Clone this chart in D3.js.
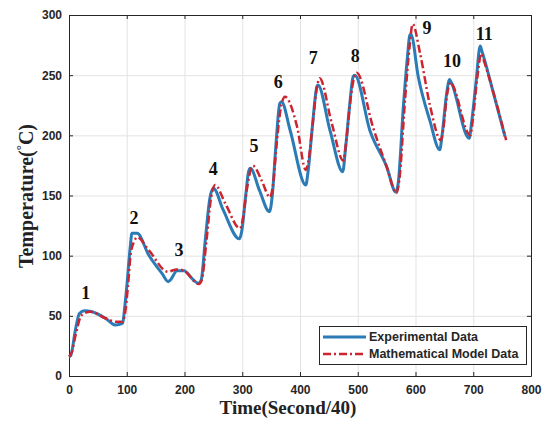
<!DOCTYPE html>
<html>
<head>
<meta charset="utf-8">
<script src="https://cdn.jsdelivr.net/npm/d3@7"></script>
<style>
  html, body { margin: 0; padding: 0; background: #fff; }
  svg { display: block; }
</style>
</head>
<body>
<svg id="chart" width="545" height="425"></svg>
<script>
// ---- data ----
const xTicks = [0, 100, 200, 300, 400, 500, 600, 700, 800];
const yTicks = [0, 50, 100, 150, 200, 250, 300];

const expTime = [0,3,11,18,27,40,63,80,88,93,96,100,106,109,118,138,161,172,176,187,199,215,224,229,236,244,250,267,295,299,306,311,314,330,347,352,358,365,368,383,410,414,421,429,431,452,474,479,486,492,495,521,550,566,570,579,586,590,592,605,625,642,646,654,659,662,693,697,705,712,715,735,755];
const expTemp = [16,17,38,52,54.3,53.4,48,42.4,43,44,55,74,107,118.6,118.6,100.5,85.3,78.4,80,87.5,87.5,80,77,80,113,148,156,138,114,120,150,170,172.6,154,136.5,150,190,226.6,228,204,158.7,170,205,240,241.8,204,169.8,190,225,248.7,250,204,174,153,160,224,265,283,284,248,212,188,200,235,246.5,244,197.5,210,245,274.2,270,235,199];

const modTime = [0,5,11,22,37,63,83,92,97,102,107,113,118,138,171,187,199,225,230,238,246,253,271,296,300,308,315,319,334,348,353,360,368,374,395,410,415,422,430,434,455,475,480,488,495,498,527,550,567,572,582,590,595,608,625,644,648,655,661,664,695,699,707,714,717,737,757];
const modTemp = [16,20,33,50.7,53.4,48,45,45,52,74,102,112,115.3,104.7,86.7,88.6,87.5,76.5,80,112,148,158.7,143,122.7,128,155,172,174.5,162,148.5,158,195,226,232,207,171.2,180,210,242,247.4,210,179,195,232,250,252,205.8,174,152,163,230,275,292.5,268,225,196,205,235,244,242,200,212,248,268,264,232,196];

const seriesNames = ["Experimental Data", "Mathematical Model Data"];
const annLabels = ["1","2","3","4","5","6","7","8","9","10","11"];
const annTime   = [28.9,112.6,190.5,249.9,320.3,362.4,423,495.8,620,663.2,719];
const annTemp   = [68.7,131,104.7,172,191,244.6,264,266,289,262,284];

// ---- layout ----
const svg = d3.select("#chart");
const L = 69, R = 531, T = 15, B = 376;
const x = d3.scaleLinear().domain([0, 800]).range([L, R]);
const y = d3.scaleLinear().domain([0, 300]).range([B, T]);
const axisColor = "#262626";
const blue = "#2b7bb6", red = "#cc2530";

svg.append("rect").attr("width", 545).attr("height", 425).attr("fill", "#fff");

// grid
const grid = svg.append("g").attr("stroke", "#e3e3e3").attr("stroke-width", 1);
grid.selectAll("line.gx").data(xTicks.slice(1, -1)).join("line")
  .attr("x1", d => x(d) + 0.5).attr("x2", d => x(d) + 0.5).attr("y1", T).attr("y2", B);
grid.selectAll("line.gy").data(yTicks.slice(1, -1)).join("line")
  .attr("y1", d => y(d) + 0.5).attr("y2", d => y(d) + 0.5).attr("x1", L).attr("x2", R);

// axes
function styleAxis(g) {
  g.selectAll("path").attr("stroke", axisColor).attr("stroke-width", 1);
  g.selectAll("line").attr("stroke", axisColor);
  g.selectAll("text").attr("fill", axisColor)
    .attr("font-family", "Liberation Sans, Arial, sans-serif")
    .attr("font-size", 12).attr("font-weight", "bold");
}
svg.append("g").attr("transform", `translate(0,${B})`)
  .call(d3.axisBottom(x).tickValues(xTicks).tickSizeInner(-4).tickSizeOuter(0).tickPadding(9))
  .call(styleAxis);
svg.append("g").attr("transform", `translate(${L},0)`)
  .call(d3.axisLeft(y).tickValues(yTicks).tickSizeInner(-4).tickSizeOuter(0).tickPadding(7))
  .call(styleAxis);
svg.append("g").attr("transform", `translate(0,${T})`)
  .call(d3.axisTop(x).tickValues(xTicks).tickSizeInner(-4).tickSizeOuter(0).tickFormat(""))
  .call(styleAxis);
svg.append("g").attr("transform", `translate(${R},0)`)
  .call(d3.axisRight(y).tickValues(yTicks).tickSizeInner(-4).tickSizeOuter(0).tickFormat(""))
  .call(styleAxis);

// lines
const line = d3.line().x(d => x(d[0])).y(d => y(d[1])).curve(d3.curveMonotoneX);
const expData = expTime.map((t, i) => [t, expTemp[i]]);
const modData = modTime.map((t, i) => [t, modTemp[i]]);

svg.append("path").datum(expData).attr("d", line)
  .attr("fill", "none").attr("stroke", blue).attr("stroke-width", 3).attr("stroke-linejoin", "round");
svg.append("path").datum(modData).attr("d", line)
  .attr("fill", "none").attr("stroke", red).attr("stroke-width", 2.5)
  .attr("stroke-dasharray", "8,3,2,3");

// annotations
svg.append("g").selectAll("text").data(annLabels).join("text")
  .attr("x", (d, i) => x(annTime[i])).attr("y", (d, i) => y(annTemp[i]))
  .attr("text-anchor", "middle").attr("dominant-baseline", "central")
  .attr("font-family", "Liberation Serif, Times New Roman, serif")
  .attr("font-weight", "bold").attr("font-size", 18).attr("fill", "#111")
  .text(d => d);

// axis titles
svg.append("text").attr("x", 288).attr("y", 414)
  .attr("text-anchor", "middle")
  .attr("font-family", "Liberation Serif, Times New Roman, serif")
  .attr("font-weight", "bold").attr("font-size", 19).attr("fill", "#222")
  .text("Time(Second/40)");

const yt = svg.append("text")
  .attr("transform", "translate(33,196) rotate(-90)")
  .attr("text-anchor", "middle")
  .attr("font-family", "Liberation Serif, Times New Roman, serif")
  .attr("font-weight", "bold").attr("font-size", 20).attr("fill", "#222");
yt.append("tspan").text("Temperature(");
yt.append("tspan").attr("dy", -8).attr("font-size", 13).text("°");
yt.append("tspan").attr("dy", 8).text("C)");

// legend
const lg = svg.append("g");
lg.append("rect").attr("x", 319.5).attr("y", 326.5).attr("width", 207).attr("height", 38)
  .attr("fill", "#fff").attr("stroke", axisColor).attr("stroke-width", 1);
const legY = [337, 354];
const legColors = [blue, red];
seriesNames.forEach((name, i) => {
  const ln = lg.append("line").attr("x1", 323).attr("x2", 366).attr("y1", legY[i]).attr("y2", legY[i])
    .attr("stroke", legColors[i]).attr("stroke-width", i === 0 ? 3 : 2.5);
  if (i === 1) ln.attr("stroke-dasharray", "8,3,2,3");
  lg.append("text").attr("x", 369).attr("y", legY[i]).attr("dominant-baseline", "central")
    .attr("font-family", "Liberation Sans, Arial, sans-serif")
    .attr("font-weight", "bold").attr("font-size", 12.5).attr("fill", axisColor)
    .text(name);
});
</script>
</body>
</html>
